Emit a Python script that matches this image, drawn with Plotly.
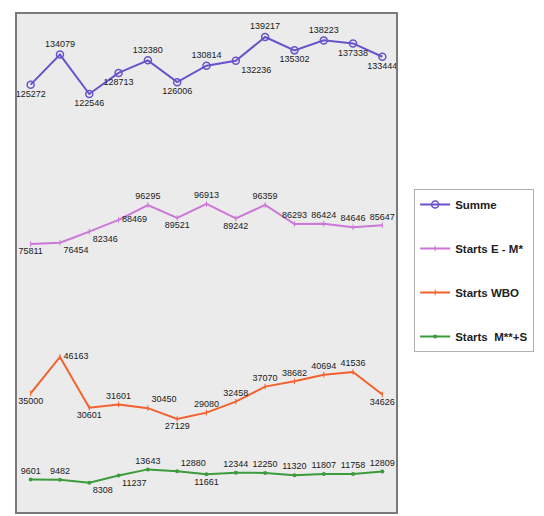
import plotly.graph_objects as go

periods = list(range(1, 14))

summe = [125272, 134079, 122546, 128713, 132380, 126006, 130814, 132236, 139217, 135302, 138223, 137338, 133444]
starts_em = [75811, 76454, 82346, 88469, 96295, 89521, 96913, 89242, 96359, 86293, 86424, 84646, 85647]
starts_wbo = [35000, 46163, 30601, 31601, 30450, 27129, 29080, 32458, 37070, 38682, 40694, 41536, 34626]
starts_ms = [9601, 9482, 8308, 11237, 13643, 12880, 11661, 12344, 12250, 11320, 11807, 11758, 12809]

names = ["Summe", "Starts E - M*", "Starts WBO", "Starts  M**+S"]

pos_summe = ["bottom center", "top center", "bottom center", "bottom center", "top center", "bottom center",
             "top center", "bottom right", "top center", "bottom center", "top center", "bottom center", "bottom center"]
pos_em = ["bottom center", "bottom right", "bottom right", "middle right", "top center", "bottom center",
          "top center", "bottom center", "top center", "top center", "top center", "top center", "top center"]
pos_wbo = ["bottom center", "middle right", "bottom center", "top center", "top right", "bottom center",
           "top center", "top center", "top center", "top center", "top center", "top center", "bottom center"]
pos_ms = ["top center", "top center", "bottom right", "bottom right", "top center", "top right",
          "bottom center", "top center", "top center", "top center", "top center", "top center", "top center"]

label_font = dict(family="Liberation Sans, Arial", size=9, color="#1a1a1a")

fig = go.Figure()

def add(vals, name, color, yaxis, pos, marker):
    fig.add_trace(go.Scatter(
        x=periods, y=vals, name="<b>" + name + "</b>", yaxis=yaxis,
        mode="lines+markers+text", text=[str(v) for v in vals], textposition=pos,
        textfont=label_font, cliponaxis=False,
        line=dict(color=color, width=2), marker=marker, legendgroup=name,
    ))

add(summe, names[0], "#6a52cc", "y",
    pos_summe, dict(symbol="circle-open", size=7, color="#6a52cc", line=dict(width=1.5)))
add(starts_em, names[1], "#cc77d8", "y2",
    pos_em, dict(symbol="line-ns", size=4, color="#cc77d8", line=dict(width=1, color="#cc77d8")))
add(starts_wbo, names[2], "#f2612e", "y3",
    pos_wbo, dict(symbol="line-ns", size=4, color="#f2612e", line=dict(width=1, color="#f2612e")))
add(starts_ms, names[3], "#3d9b3d", "y4",
    pos_ms, dict(symbol="circle", size=4, color="#3d9b3d"))

hidden = dict(visible=False, fixedrange=True)
fig.update_layout(
    width=536, height=508,
    margin=dict(l=8, r=147, t=5, b=3),
    paper_bgcolor="white", plot_bgcolor="#ebebeb",
    showlegend=True,
    xaxis=dict(range=[0.5, 13.5], visible=False),
    yaxis=dict(range=[0, 146230], **hidden),
    yaxis2=dict(range=[-65768, 197390], overlaying="y", **hidden),
    yaxis3=dict(range=[-1705, 151669], overlaying="y", **hidden),
    yaxis4=dict(range=[-3800, 196200], overlaying="y", **hidden),
    legend=dict(x=1.045, y=0.648, xanchor="left", yanchor="top",
                bgcolor="white", bordercolor="#b0b0b0", borderwidth=1,
                font=dict(family="Liberation Sans, Arial", size=11.5, color="#222"),
                tracegroupgap=25, itemwidth=30),
    shapes=[dict(type="rect", xref="paper", yref="paper", x0=0, x1=1, y0=0, y1=1,
                 line=dict(color="#7a7a7a", width=2))],
)

fig.write_html("out.html")
